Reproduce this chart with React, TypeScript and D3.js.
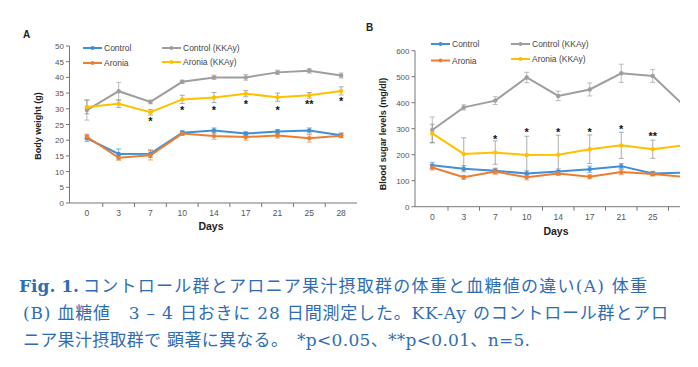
import React from "react";
import * as d3 from "d3";

// x categories (days)
const days = ["0", "3", "7", "10", "14", "17", "21", "25", "28"];
const seriesNames = ["Control", "Aronia", "Control (KKAy)", "Aronia (KKAy)"];
const seriesColors = ["#3f8fd9", "#ed7d31", "#9e9e9e", "#ffc000"];

// A: body weight (g)
const bwControl = [20.6, 15.6, 15.7, 22.4, 23.1, 22.1, 22.8, 23.1, 21.6];
const bwAronia = [21.1, 14.4, 15.2, 22.1, 21.3, 21.0, 21.5, 20.6, 21.4];
const bwControlKK = [29.6, 35.6, 32.2, 38.6, 40.0, 40.0, 41.6, 42.1, 40.6];
const bwAroniaKK = [30.6, 31.6, 28.9, 33.0, 33.6, 34.8, 33.7, 34.3, 35.7];
const bwControlErr = [1.0, 1.6, 1.2, 0.7, 0.8, 0.6, 0.6, 0.8, 0.7];
const bwAroniaErr = [0.8, 0.8, 1.5, 0.6, 1.0, 1.0, 0.8, 1.2, 0.6];
const bwControlKKErr = [3.2, 2.8, 0.6, 0.5, 0.7, 0.9, 0.7, 0.7, 0.8];
const bwAroniaKKErr = [2.2, 1.2, 0.9, 1.3, 1.6, 1.0, 1.3, 0.9, 1.3];
const bwStars = ["", "", "*", "*", "*", "*", "*", "**", "*"];
const bwStarAt = [0, 0, 26.7, 30.3, 30.3, 32.1, 30.3, 32.1, 33.1];
const bwTicks = [0, 5, 10, 15, 20, 25, 30, 35, 40, 45, 50];

// B: blood sugar (mg/dl)
const bsControl = [159, 146, 138, 128, 135, 144, 156, 128, 131];
const bsAronia = [151, 113, 135, 113, 128, 115, 133, 126, 115];
const bsControlKK = [295, 382, 408, 497, 426, 451, 513, 503, 388];
const bsAroniaKK = [282, 203, 208, 199, 200, 221, 236, 221, 237];
const bsControlErr = [12, 12, 10, 10, 10, 12, 10, 8, 8];
const bsAroniaErr = [10, 8, 10, 10, 8, 8, 10, 8, 8];
const bsControlKKErr = [50, 10, 15, 20, 18, 25, 35, 25, 20];
const bsAroniaKKErr = [35, 62, 45, 72, 75, 55, 50, 35, 30];
const bsStars = ["", "", "*", "*", "*", "*", "*", "**", ""];
const bsStarAt = [0, 0, 269, 295, 295, 295, 305, 278, 0];
const bsTicks = [0, 100, 200, 300, 400, 500, 600];

const captionLines = [
  "コントロール群とアロニア果汁摂取群の体重と血糖値の違い(A)  体重",
  "(B)  血糖値　3 – 4 日おきに 28 日間測定した。KK-Ay のコントロール群とアロ",
  "ニア果汁摂取群で 顕著に異なる。　*p<0.05、**p<0.01、n=5.",
];

const sans = "'Liberation Sans', Arial, sans-serif";

function Panel({ p }) {
  const x = d3.scaleBand().domain(days).range([p.x0, p.x1]).padding(0);
  const y = d3.scaleLinear().domain([0, p.yMax]).range([p.yBottom, p.yTop]);
  const cx = (d) => x(d) + x.bandwidth() / 2;
  const line = d3
    .line()
    .x((d, i) => cx(days[i]))
    .y((d) => y(d));
  const clipId = "clip" + p.label;

  return (
    <g>
      <clipPath id={clipId}>
        <rect x={0} y={0} width={p.clipRight} height={367} />
      </clipPath>
      <text x={p.labelX} y={p.labelY} fontFamily={sans} fontWeight="bold" fontSize={10} fill="#222">
        {p.label}
      </text>
      <g clipPath={`url(#${clipId})`}>
        {/* axes */}
        <line x1={p.x0 - 1.5} x2={p.x0 - 1.5} y1={p.yTop} y2={p.yBottom} stroke="#777" />
        <line x1={p.x0 - 1.5} x2={p.x1} y1={p.yBottom} y2={p.yBottom} stroke="#777" />
        {p.ticks.map((t) => (
          <g key={t}>
            <line x1={p.x0 - 5} x2={p.x0 - 1.5} y1={y(t)} y2={y(t)} stroke="#777" />
            <text x={p.x0 - 7} y={y(t) + 3} textAnchor="end" fontFamily={sans} fontSize={8} fill="#555">
              {t}
            </text>
          </g>
        ))}
        {days.map((d, i) => (
          <g key={d}>
            {i > 0 && (
              <line x1={x(d)} x2={x(d)} y1={p.yBottom} y2={p.yBottom + 4} stroke="#777" />
            )}
            <text x={cx(d)} y={p.xLabelY} textAnchor="middle" fontFamily={sans} fontSize={8.5} fill="#555">
              {d}
            </text>
          </g>
        ))}
        {/* error bars */}
        {p.series.map((s, si) =>
          s.values.map((v, i) => {
            const xx = cx(days[i]);
            const e = s.errs[i];
            return (
              <g key={`e${si}-${i}`} stroke={si === 3 ? "#888" : seriesColors[si]} strokeWidth={0.8} opacity={0.85}>
                <line x1={xx} x2={xx} y1={y(v - e)} y2={y(v + e)} />
                <line x1={xx - 2.5} x2={xx + 2.5} y1={y(v + e)} y2={y(v + e)} />
                <line x1={xx - 2.5} x2={xx + 2.5} y1={y(v - e)} y2={y(v - e)} />
              </g>
            );
          })
        )}
        {/* lines */}
        {p.series.map((s, si) => (
          <g key={`l${si}`}>
            <path d={line(s.values)} fill="none" stroke={seriesColors[si]} strokeWidth={2} />
            {s.values.map((v, i) => (
              <circle key={i} cx={cx(days[i])} cy={y(v)} r={2.2} fill={seriesColors[si]} />
            ))}
          </g>
        ))}
        {/* significance */}
        {p.stars.map((s, i) =>
          s ? (
            <text
              key={`s${i}`}
              x={cx(days[i])}
              y={y(p.starAt[i]) + 6}
              textAnchor="middle"
              fontFamily={sans}
              fontWeight="bold"
              fontSize={11}
              fill="#111"
            >
              {s}
            </text>
          ) : null
        )}
      </g>
      {/* axis titles */}
      <text
        transform={`translate(${p.yTitleX},${p.yTitleY}) rotate(-90)`}
        textAnchor="middle"
        dominantBaseline="central"
        fontFamily={sans}
        fontWeight="bold"
        fontSize={9}
        fill="#222"
      >
        {p.yTitle}
      </text>
      <text x={p.daysX} y={p.daysY} textAnchor="middle" dominantBaseline="central" fontFamily={sans} fontWeight="bold" fontSize={10.5} fill="#222">
        Days
      </text>
      {/* legend */}
      {seriesNames.map((n, i) => {
        const lg = p.legend[i];
        return (
          <g key={n}>
            <line x1={lg[0]} x2={lg[0] + 19} y1={lg[1]} y2={lg[1]} stroke={seriesColors[i]} strokeWidth={2} />
            <circle cx={lg[0] + 9.5} cy={lg[1]} r={2} fill={seriesColors[i]} />
            <text x={lg[0] + 21} y={lg[1]} dominantBaseline="central" fontFamily={sans} fontSize={8.5} fill="#444">
              {n}
            </text>
          </g>
        );
      })}
    </g>
  );
}

const panelA = {
  label: "A",
  labelX: 23,
  labelY: 38,
  x0: 71,
  x1: 357,
  yTop: 46,
  yBottom: 203,
  yMax: 50,
  ticks: bwTicks,
  xLabelY: 216,
  clipRight: 698,
  series: [
    { values: bwControl, errs: bwControlErr },
    { values: bwAronia, errs: bwAroniaErr },
    { values: bwControlKK, errs: bwControlKKErr },
    { values: bwAroniaKK, errs: bwAroniaKKErr },
  ],
  stars: bwStars,
  starAt: bwStarAt,
  yTitle: "Body weight (g)",
  yTitleX: 38,
  yTitleY: 126,
  daysX: 211,
  daysY: 226,
  legend: [
    [83, 48],
    [83, 63],
    [162, 48],
    [162, 62],
  ],
};

const panelB = {
  label: "B",
  labelX: 366,
  labelY: 31,
  x0: 416.5,
  x1: 700,
  yTop: 50.7,
  yBottom: 206.7,
  yMax: 600,
  ticks: bsTicks,
  xLabelY: 220,
  clipRight: 680,
  series: [
    { values: bsControl, errs: bsControlErr },
    { values: bsAronia, errs: bsAroniaErr },
    { values: bsControlKK, errs: bsControlKKErr },
    { values: bsAroniaKK, errs: bsAroniaKKErr },
  ],
  stars: bsStars,
  starAt: bsStarAt,
  yTitle: "Blood sugar levels (mg/dl)",
  yTitleX: 383,
  yTitleY: 134,
  daysX: 556,
  daysY: 231,
  legend: [
    [431, 44],
    [431, 60.5],
    [511, 44],
    [511, 59],
  ],
};

export default function App() {
  const capFont = "'DejaVu Serif', 'Liberation Serif', 'Noto Sans CJK JP', serif";
  return (
    <svg
      width={698}
      height={367}
      style={{ position: "absolute", left: 0, top: 0, background: "#fff" }}
    >
      <Panel p={panelA} />
      <Panel p={panelB} />
      <g fill="#2e6db4" fontFamily={capFont} fontSize={17}>
        <text x={19} y={292}>
          <tspan fontWeight="bold">Fig. 1.</tspan>
        </text>
        <text x={83} y={292} textLength={564} lengthAdjust="spacing">
          {captionLines[0]}
        </text>
        <text x={23} y={319} textLength={645} lengthAdjust="spacing">
          {captionLines[1]}
        </text>
        <text x={23} y={346} textLength={507} lengthAdjust="spacing">
          {captionLines[2]}
        </text>
      </g>
    </svg>
  );
}
